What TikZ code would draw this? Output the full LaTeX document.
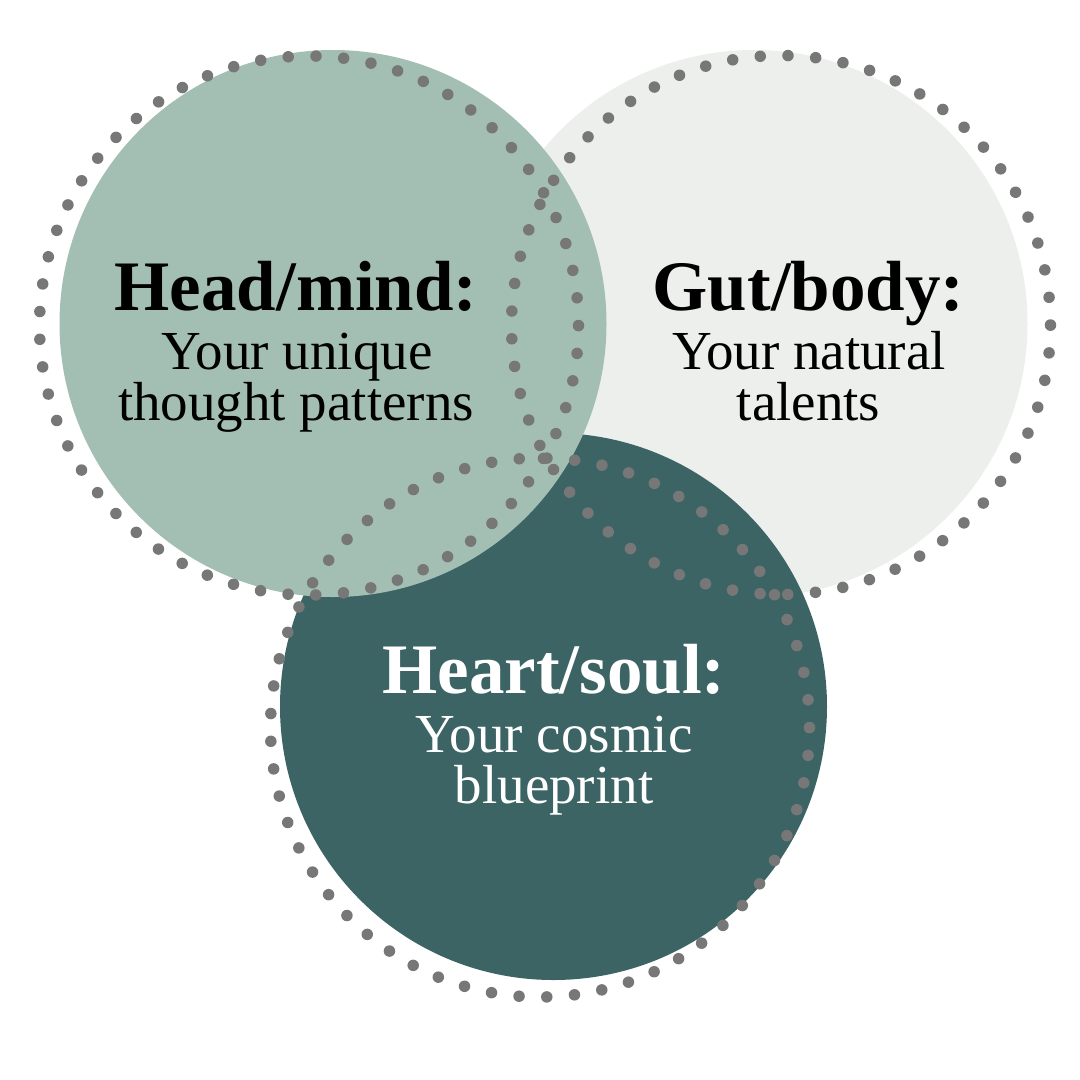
\documentclass[tikz,border=0pt]{standalone}
\usepackage{fontspec}
\setmainfont{Liberation Serif}
\usepackage{xcolor}
\usepackage{tikz}
\usetikzlibrary{positioning}

\definecolor{headfill}{HTML}{A3BFB4}
\definecolor{gutfill}{HTML}{EDEFEC}
\definecolor{heartfill}{HTML}{3C6464}
\definecolor{dotgray}{HTML}{777777}

\tikzset{
    dotring/.style={draw=dotgray, line width=11.5pt, line cap=round, dash pattern=on 0pt off 27.76pt},
    title/.style={anchor=base, inner sep=0pt, font=\fontsize{71}{71}\selectfont\bfseries},
    blurb/.style={anchor=base, inner sep=0pt, font=\fontsize{55}{55}\selectfont}
}

\begin{document}
\begin{tikzpicture}[x=1pt, y=-1pt]
    \fill[white] (0,0) rectangle (1080,1080);
    \useasboundingbox (0,0) rectangle (1080,1080);

    % Circles
    \fill[gutfill] (754,323.5) circle (273.5pt);
    \fill[heartfill] (553.5,706.5) circle (273.5pt);
    \fill[headfill] (333,323.5) circle (273.5pt);

    % Dotted rings
    \draw[dotring] (309,325.5) circle (269.5pt);
    \draw[dotring] (781,325) circle (269.5pt);
    \draw[dotring] (540,727.5) circle (269.5pt);

    % Labels
    \node[title] (headT) at (296,310) {Head/mind:};
    \node[blurb] (headA) at (297,369) {Your unique};
    \node[blurb] (headB) at (296,420) {thought patterns};

    \node[title] (gutT) at (808.5,310) {Gut/body:};
    \node[blurb] (gutA) at (809,369) {Your natural};
    \node[blurb] (gutB) at (808.5,420) {talents};

    \node[title, white] (heartT) at (554,693) {Heart/soul:};
    \node[blurb, white] (heartA) at (554,752) {Your cosmic};
    \node[blurb, white] (heartB) at (554,803) {blueprint};
\end{tikzpicture}
\end{document}
